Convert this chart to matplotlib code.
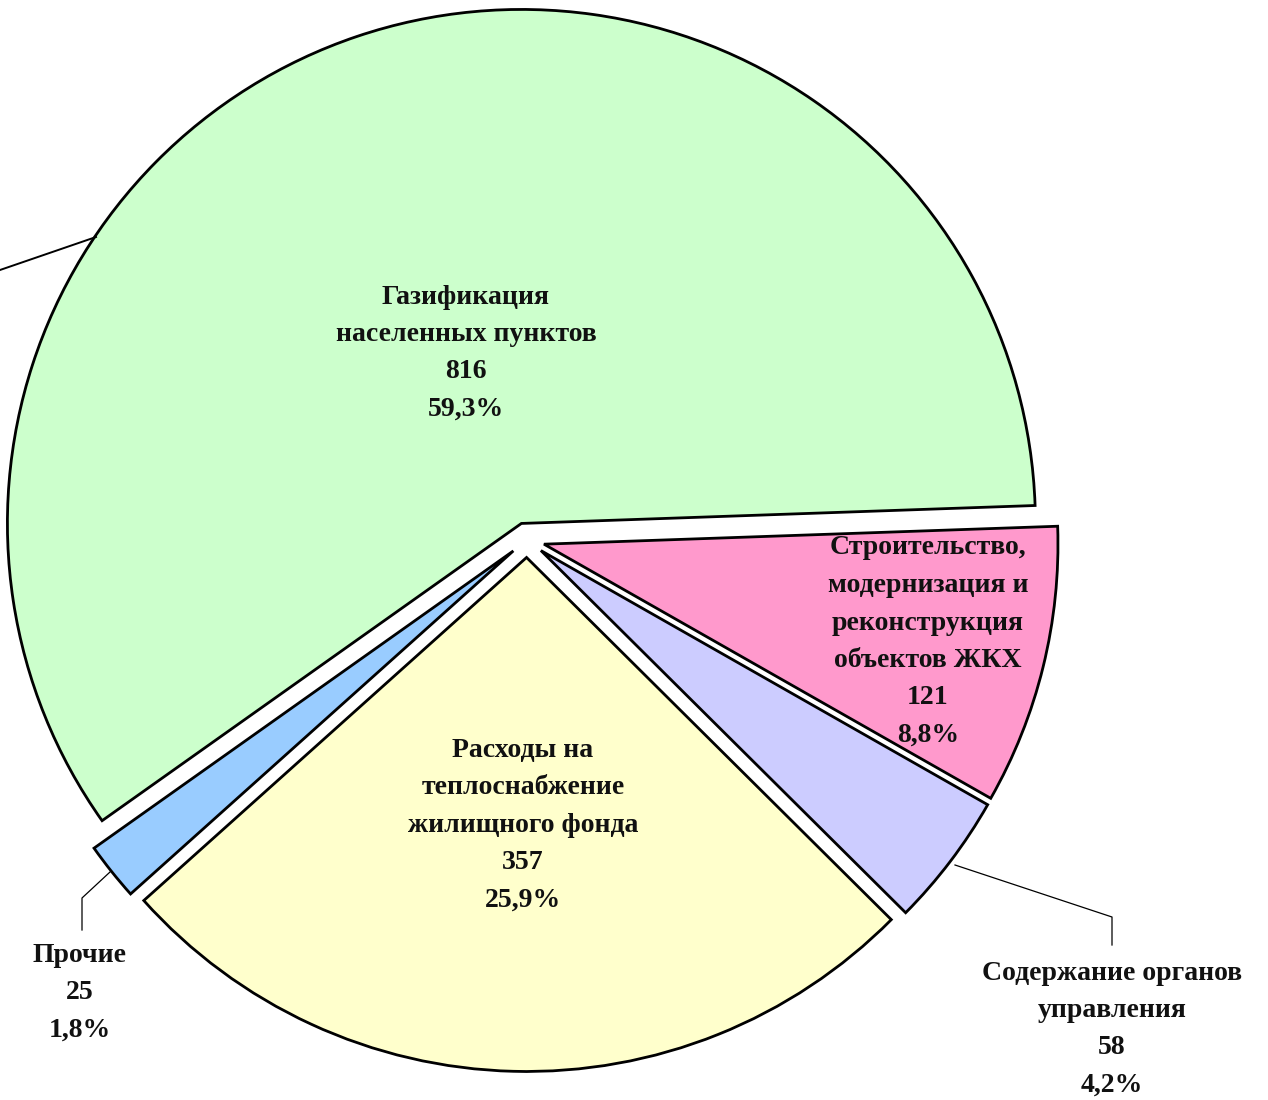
import matplotlib
matplotlib.use("Agg")
import matplotlib.pyplot as plt

W, H = 1268, 1100
CX, CY, R = 527, 540, 514  # pie centre and radius in image pixels

categories = [
    "Газификация\nнаселенных пунктов",
    "Прочие",
    "Расходы на\nтеплоснабжение\nжилищного фонда",
    "Содержание органов\nуправления",
    "Строительство,\nмодернизация и\nреконструкция\nобъектов ЖКХ",
]
values = [816, 25, 357, 58, 121]
colors = ["#CCFFCC", "#99CCFF", "#FFFFCC", "#CCCCFF", "#FF99CC"]

# label anchor (x centre, first-line y) in image pixels
label_pos = [(466, 297), (80, 955), (523, 750), (1112, 973), (928, 548)]
line_step = 37.5


def P(x, y):
    return ((x - CX) / R, (CY - y) / R)


fig = plt.figure(figsize=(W / 100, H / 100), dpi=100)
ax = fig.add_axes([0, 0, 1, 1])
ax.pie(values, colors=colors, startangle=2, counterclock=True,
       explode=[0.034] * len(values), radius=1, center=(0, 0),
       wedgeprops=dict(edgecolor="black", linewidth=2.0))
ax.set_xlim(-CX / R, (W - CX) / R)
ax.set_ylim((CY - H) / R, CY / R)
ax.set_aspect("equal")
ax.axis("off")

total = sum(values)
for cat, v, (lx, ly) in zip(categories, values, label_pos):
    pct = f"{100 * v / total:.1f}%".replace(".", ",")
    lines = cat.split("\n") + [str(v), pct]
    for i, t in enumerate(lines):
        x, y = P(lx, ly + i * line_step)
        ax.text(x, y, t, ha="center", va="center", fontsize=20,
                fontweight="bold", family="Liberation Serif", color="#111111")

# leader lines
leaders = [
    [(96, 237), (0, 270)],
    [(110, 872), (82, 898), (82, 930)],
    [(955, 865), (1112, 917), (1112, 945)],
]
for pts, lw in zip(leaders, [1.4, 0.9, 0.9]):
    xs, ys = zip(*[P(a, b) for a, b in pts])
    ax.plot(xs, ys, color="black", linewidth=lw)

fig.savefig("out.png", dpi=100)
